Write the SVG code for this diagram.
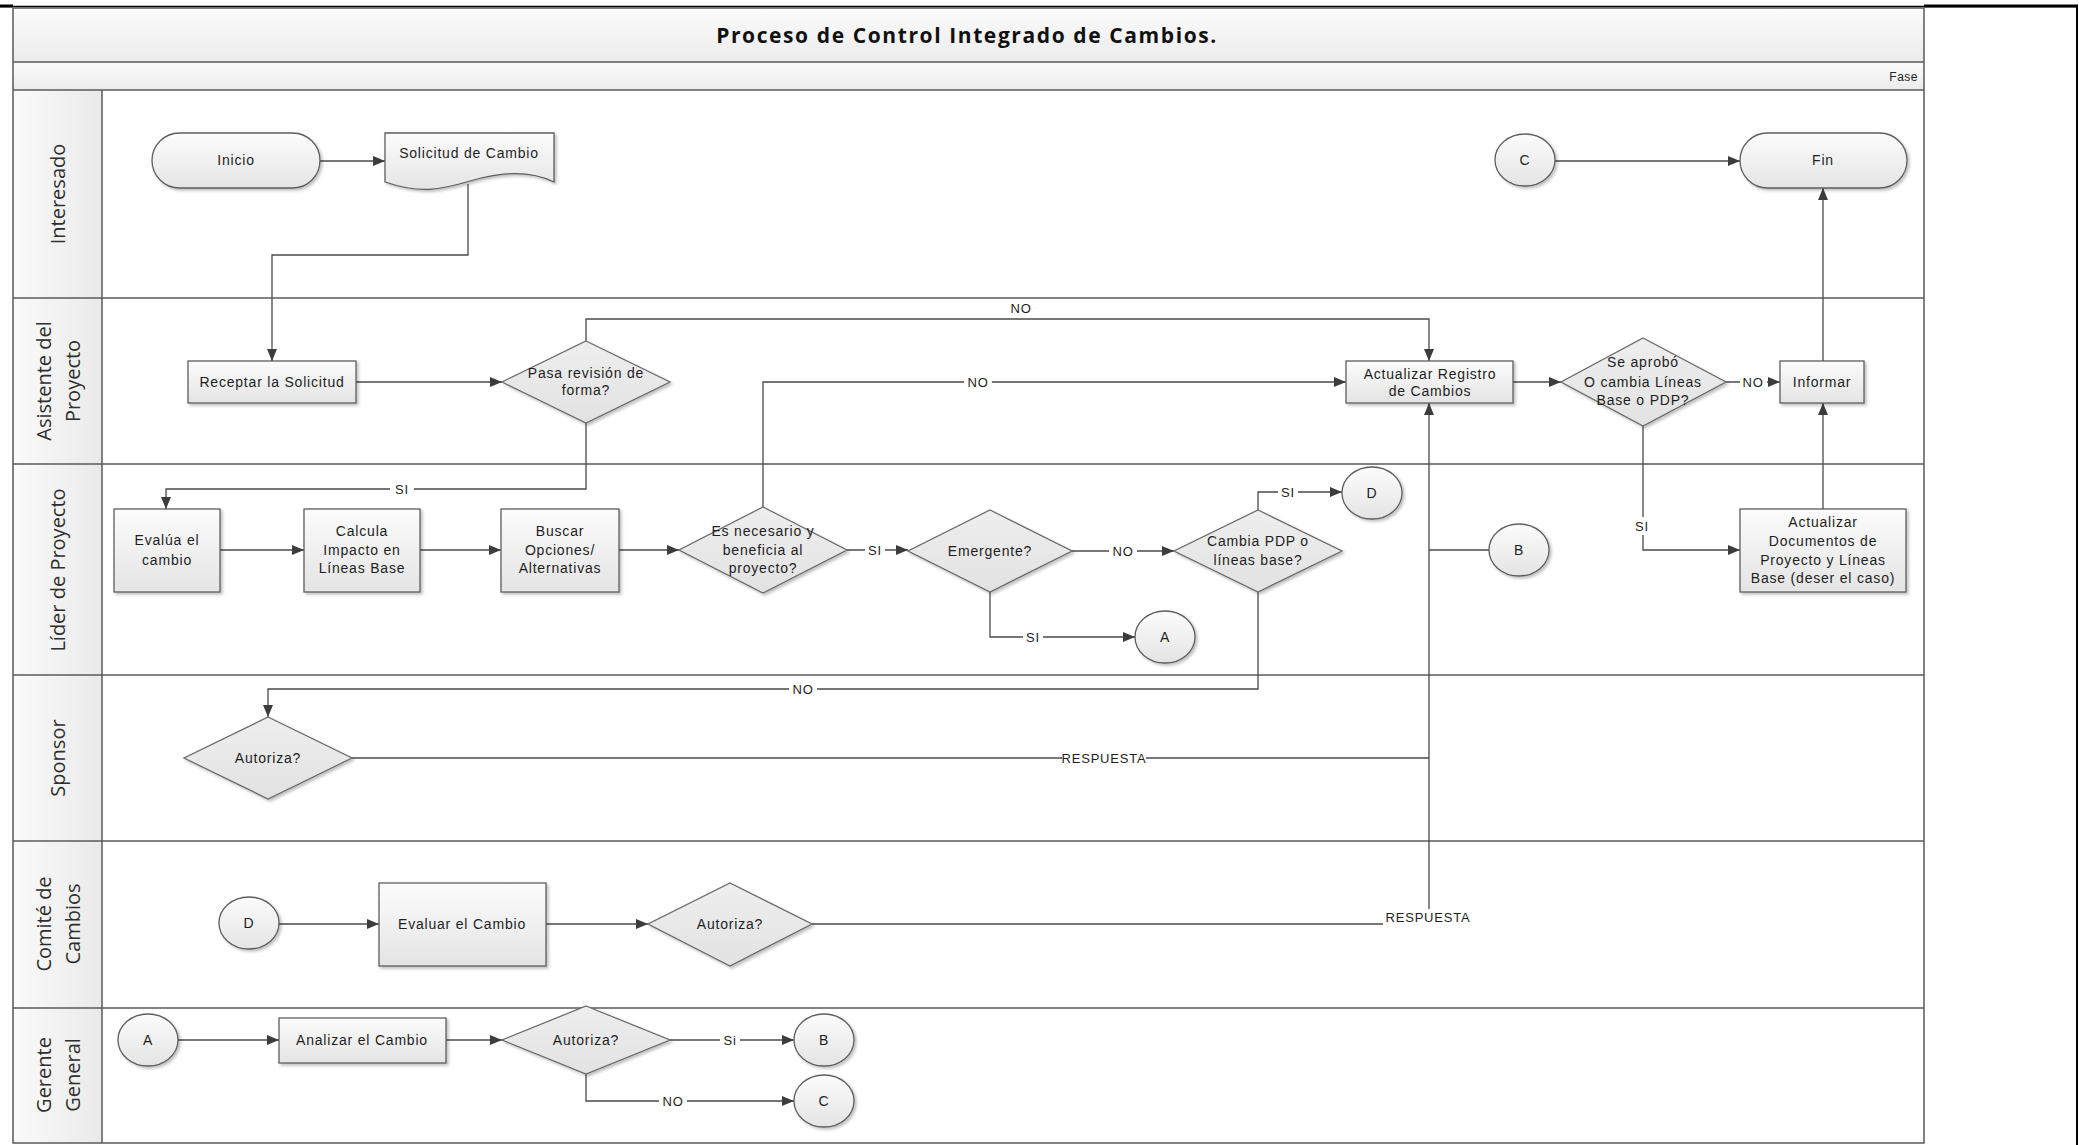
<svg xmlns="http://www.w3.org/2000/svg" width="2079" height="1145" viewBox="0 0 2079 1145">
<defs>
<linearGradient id="gNode" x1="0" y1="0" x2="0" y2="1"><stop offset="0" stop-color="#fcfcfc"/><stop offset="1" stop-color="#e4e4e4"/></linearGradient>
<linearGradient id="gDia" x1="0" y1="0" x2="0" y2="1"><stop offset="0" stop-color="#eeeeee"/><stop offset="1" stop-color="#e2e2e2"/></linearGradient>
<linearGradient id="gHead" x1="0" y1="0" x2="1" y2="0"><stop offset="0" stop-color="#fafafa"/><stop offset="1" stop-color="#eaeaea"/></linearGradient>
<linearGradient id="gBand" x1="0" y1="0" x2="0" y2="1"><stop offset="0" stop-color="#fbfbfb"/><stop offset="1" stop-color="#ececec"/></linearGradient>
<filter id="sh" x="-10%" y="-10%" width="130%" height="140%"><feDropShadow dx="2" dy="2" stdDeviation="1.5" flood-color="#000" flood-opacity="0.25"/></filter>
<marker id="arr" viewBox="0 0 12 10" refX="12" refY="5" markerWidth="12" markerHeight="10" markerUnits="userSpaceOnUse" orient="auto"><path d="M0,0 L12,5 L0,10 z" fill="#3c3c3c"/></marker>
<style>
.frame{fill:none;stroke:#5a5a5a;stroke-width:1.5}
.lane{stroke:#5a5a5a;stroke-width:1.5}
.shape{fill:url(#gNode);stroke:#5e5e5e;stroke-width:1.3;filter:url(#sh)}
.dia{fill:url(#gDia);stroke:#6a6a6a;stroke-width:1.3;filter:url(#sh)}
.t{font-family:"Liberation Sans",Arial,sans-serif;font-size:14px;letter-spacing:0.8px;fill:#1e1e1e;text-anchor:middle}
.lbl{font-family:"Liberation Sans",Arial,sans-serif;font-size:13px;letter-spacing:0.8px;fill:#1e1e1e;text-anchor:middle}
.lt{font-family:"Open Sans","Noto Sans",sans-serif;font-size:20px;fill:#2e2e2e;text-anchor:middle}
.title{font-family:"Open Sans","Liberation Sans",sans-serif;font-size:21px;font-weight:bold;letter-spacing:1.6px;fill:#111;text-anchor:middle}
.c{fill:none;stroke:#4a4a4a;stroke-width:1.3}
.ca{fill:none;stroke:#4a4a4a;stroke-width:1.3;marker-end:url(#arr)}
.bg{fill:#ffffff}
</style>
</defs>
<rect width="2079" height="1145" fill="#ffffff"/>
<!-- page borders -->
<line x1="0" y1="6.5" x2="2078" y2="6.5" stroke="#000" stroke-width="1.5"/>
<line x1="0" y1="6" x2="13" y2="6" stroke="#000" stroke-width="3"/>
<line x1="1924" y1="6" x2="2078" y2="6" stroke="#000" stroke-width="3"/>
<line x1="2077" y1="5" x2="2077" y2="1145" stroke="#000" stroke-width="2"/>
<!-- pool -->
<g id="pool">
<rect x="13" y="8" width="1911" height="54" fill="url(#gBand)"/>
<rect x="13" y="62" width="1911" height="28" fill="url(#gBand)"/>
<rect x="13" y="90" width="89" height="1053" fill="url(#gHead)"/>
<rect x="13" y="8" width="1911" height="1135" class="frame"/>
<line x1="13" y1="62" x2="1924" y2="62" class="lane"/>
<line x1="13" y1="90" x2="1924" y2="90" class="lane"/>
<line x1="13" y1="298" x2="1924" y2="298" class="lane"/>
<line x1="13" y1="464" x2="1924" y2="464" class="lane"/>
<line x1="13" y1="675" x2="1924" y2="675" class="lane"/>
<line x1="13" y1="841" x2="1924" y2="841" class="lane"/>
<line x1="13" y1="1008" x2="1924" y2="1008" class="lane"/>
<line x1="102" y1="90" x2="102" y2="1143" class="lane"/>
<text x="967" y="43" class="title">Proceso de Control Integrado de Cambios.</text>
<text x="1918" y="81" font-family="Liberation Sans, Arial, sans-serif" font-size="12" letter-spacing="0.5" fill="#222" text-anchor="end">Fase</text>
<text class="lt" transform="translate(58,194) rotate(-90)"><tspan x="0" y="7">Interesado</tspan></text>
<text class="lt" transform="translate(58,381) rotate(-90)"><tspan x="0" y="-7">Asistente del</tspan><tspan x="0" y="22">Proyecto</tspan></text>
<text class="lt" transform="translate(58,570) rotate(-90)"><tspan x="0" y="7">Líder de Proyecto</tspan></text>
<text class="lt" transform="translate(58,758) rotate(-90)"><tspan x="0" y="7">Sponsor</tspan></text>
<text class="lt" transform="translate(58,924) rotate(-90)"><tspan x="0" y="-7">Comité de</tspan><tspan x="0" y="22">Cambios</tspan></text>
<text class="lt" transform="translate(58,1075) rotate(-90)"><tspan x="0" y="-7">Gerente</tspan><tspan x="0" y="22">General</tspan></text>
</g>
<!-- connectors -->
<g id="connectors">
<path class="ca" d="M320,161 H385"/>
<path class="ca" d="M468,184 V255 H272 V361"/>
<path class="ca" d="M356,382 H502"/>
<path class="ca" d="M586,341 V319 H1429 V361"/>
<path class="ca" d="M586,423 V489 H166 V509"/>
<path class="ca" d="M220,550 H304"/>
<path class="ca" d="M420,550 H501"/>
<path class="ca" d="M619,550 H679"/>
<path class="ca" d="M763,507 V382 H1346"/>
<path class="ca" d="M847,550 H908"/>
<path class="ca" d="M1072,551 H1174"/>
<path class="ca" d="M1258,510 V492 H1342"/>
<path class="ca" d="M990,592 V637 H1135"/>
<path class="ca" d="M1258,592 V689 H268 V717"/>
<path class="c" d="M352,758 H1429"/>
<path class="ca" d="M812,924 H1429 V403"/>
<path class="c" d="M1489,550 H1429"/>
<path class="ca" d="M1513,382 H1561"/>
<path class="ca" d="M1726,382 H1780"/>
<path class="ca" d="M1643,426 V550 H1740"/>
<path class="ca" d="M1823,509 V403"/>
<path class="ca" d="M1823,361 V188"/>
<path class="ca" d="M1555,161 H1740"/>
<path class="ca" d="M279,924 H379"/>
<path class="ca" d="M546,924 H648"/>
<path class="ca" d="M178,1040 H279"/>
<path class="ca" d="M446,1040 H502"/>
<path class="ca" d="M670,1040 H794"/>
<path class="ca" d="M586,1074 V1101 H794"/>
<!-- labels -->
<text x="1021" y="313" class="lbl">NO</text>
<rect x="390" y="481" width="24" height="16" class="bg"/><text x="402" y="494" class="lbl">SI</text>
<rect x="964" y="374" width="28" height="16" class="bg"/><text x="978" y="387" class="lbl">NO</text>
<rect x="865" y="542" width="20" height="16" class="bg"/><text x="875" y="555" class="lbl">SI</text>
<rect x="1109" y="543" width="28" height="16" class="bg"/><text x="1123" y="556" class="lbl">NO</text>
<rect x="1278" y="484" width="20" height="16" class="bg"/><text x="1288" y="497" class="lbl">SI</text>
<rect x="1023" y="629" width="20" height="16" class="bg"/><text x="1033" y="642" class="lbl">SI</text>
<rect x="789" y="681" width="28" height="16" class="bg"/><text x="803" y="694" class="lbl">NO</text>
<rect x="1062" y="750" width="84" height="16" class="bg"/><text x="1104" y="763" class="lbl">RESPUESTA</text>
<rect x="1383" y="909" width="92" height="17" class="bg"/><text x="1428" y="922" class="lbl">RESPUESTA</text>
<rect x="1740" y="374" width="27" height="16" class="bg"/><text x="1753" y="387" class="lbl">NO</text>
<rect x="1633" y="517" width="18" height="18" class="bg"/><text x="1642" y="531" class="lbl">SI</text>
<rect x="720" y="1032" width="20" height="16" class="bg"/><text x="730" y="1045" class="lbl">Si</text>
<rect x="659" y="1093" width="28" height="16" class="bg"/><text x="673" y="1106" class="lbl">NO</text>
</g>
<!-- nodes -->
<g id="inicio"><rect x="152" y="133" width="168" height="55" rx="27.5" class="shape"/><text x="236" y="165" class="t">Inicio</text></g>
<g id="solicitud"><path d="M385,133 H554 V182 C530,170 500,172 470,181 C440,190 420,194 385,182 Z" class="shape"/><text x="469" y="158" class="t">Solicitud de Cambio</text></g>
<g id="c-top"><ellipse cx="1525" cy="160" rx="30" ry="26" class="shape"/><text x="1525" y="165" class="t">C</text></g>
<g id="fin"><rect x="1740" y="133" width="167" height="55" rx="27.5" class="shape"/><text x="1823" y="165" class="t">Fin</text></g>
<g id="receptar"><rect x="188" y="361" width="168" height="42" class="shape"/><text x="272" y="387" class="t">Receptar la Solicitud</text></g>
<g id="pasa"><path d="M586,341 L670,382 L586,423 L502,382 Z" class="dia"/><text x="586" y="378" class="t">Pasa revisión de</text><text x="586" y="395" class="t">forma?</text></g>
<g id="actualizar-registro"><rect x="1346" y="361" width="167" height="42" class="shape"/><text x="1430" y="379" class="t">Actualizar Registro</text><text x="1430" y="396" class="t">de Cambios</text></g>
<g id="se-aprobo"><path d="M1643,338 L1726,382 L1643,426 L1561,382 Z" class="dia"/><text x="1643" y="367" class="t">Se aprobó</text><text x="1643" y="387" class="t">O cambia Líneas</text><text x="1643" y="405" class="t">Base o PDP?</text></g>
<g id="informar"><rect x="1780" y="361" width="84" height="42" class="shape"/><text x="1822" y="387" class="t">Informar</text></g>
<g id="actualizar-docs"><rect x="1740" y="509" width="166" height="83" class="shape"/><text x="1823" y="527" class="t">Actualizar</text><text x="1823" y="546" class="t">Documentos de</text><text x="1823" y="565" class="t">Proyecto y Líneas</text><text x="1823" y="583" class="t">Base (deser el caso)</text></g>
<g id="evalua"><rect x="114" y="509" width="106" height="83" class="shape"/><text x="167" y="545" class="t">Evalúa el</text><text x="167" y="565" class="t">cambio</text></g>
<g id="calcula"><rect x="304" y="509" width="116" height="83" class="shape"/><text x="362" y="536" class="t">Calcula</text><text x="362" y="555" class="t">Impacto en</text><text x="362" y="573" class="t">Líneas Base</text></g>
<g id="buscar"><rect x="501" y="509" width="118" height="83" class="shape"/><text x="560" y="536" class="t">Buscar</text><text x="560" y="555" class="t">Opciones/</text><text x="560" y="573" class="t">Alternativas</text></g>
<g id="es-necesario"><path d="M763,507 L847,550 L763,593 L679,550 Z" class="dia"/><text x="763" y="536" class="t">Es necesario y</text><text x="763" y="555" class="t">beneficia al</text><text x="763" y="573" class="t">proyecto?</text></g>
<g id="emergente"><path d="M990,510 L1072,551 L990,592 L908,551 Z" class="dia"/><text x="990" y="556" class="t">Emergente?</text></g>
<g id="cambia-pdp"><path d="M1258,510 L1342,551 L1258,592 L1174,551 Z" class="dia"/><text x="1258" y="546" class="t">Cambia PDP o</text><text x="1258" y="565" class="t">líneas base?</text></g>
<g id="d-lider"><ellipse cx="1372" cy="493" rx="30" ry="26" class="shape"/><text x="1372" y="498" class="t">D</text></g>
<g id="b-lider"><ellipse cx="1519" cy="550" rx="30" ry="26" class="shape"/><text x="1519" y="555" class="t">B</text></g>
<g id="a-lider"><ellipse cx="1165" cy="637" rx="30" ry="26" class="shape"/><text x="1165" y="642" class="t">A</text></g>
<g id="autoriza-sponsor"><path d="M268,717 L352,758 L268,799 L184,758 Z" class="dia"/><text x="268" y="763" class="t">Autoriza?</text></g>
<g id="d-comite"><ellipse cx="249" cy="923" rx="30" ry="26" class="shape"/><text x="249" y="928" class="t">D</text></g>
<g id="evaluar"><rect x="379" y="883" width="167" height="83" class="shape"/><text x="462" y="929" class="t">Evaluar el Cambio</text></g>
<g id="autoriza-comite"><path d="M730,883 L812,924 L730,966 L648,924 Z" class="dia"/><text x="730" y="929" class="t">Autoriza?</text></g>
<g id="a-gerente"><ellipse cx="148" cy="1040" rx="30" ry="26" class="shape"/><text x="148" y="1045" class="t">A</text></g>
<g id="analizar"><rect x="279" y="1018" width="167" height="45" class="shape"/><text x="362" y="1045" class="t">Analizar el Cambio</text></g>
<g id="autoriza-gerente"><path d="M586,1006 L670,1040 L586,1074 L502,1040 Z" class="dia"/><text x="586" y="1045" class="t">Autoriza?</text></g>
<g id="b-gerente"><ellipse cx="824" cy="1040" rx="30" ry="26" class="shape"/><text x="824" y="1045" class="t">B</text></g>
<g id="c-gerente"><ellipse cx="824" cy="1101" rx="30" ry="26" class="shape"/><text x="824" y="1106" class="t">C</text></g>
</svg>
